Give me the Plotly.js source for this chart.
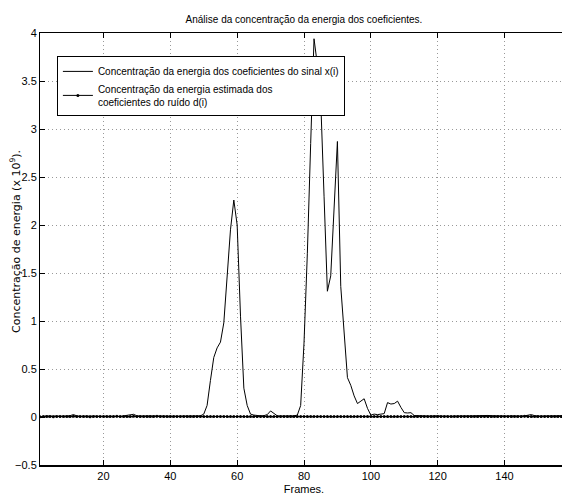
<!DOCTYPE html>
<html>
<head>
<meta charset="utf-8">
<script src="https://cdn.plot.ly/plotly-3.0.1.min.js"></script>
<style>
html,body{margin:0;padding:0;overflow:hidden;background:#fff;width:562px;height:499px;}
#chart{width:572px;height:499px;}
</style>
</head>
<body>
<div id="chart"></div>
<script>
// Frames 1..159
const signalX = [
0.000,0.010,0.012,0.010,0.008,0.012,0.010,0.009,0.011,0.014,
0.025,0.012,0.008,0.010,0.009,0.011,0.010,0.008,0.009,0.007,
0.009,0.012,0.010,0.008,0.006,0.010,0.014,0.018,0.028,0.012,
0.008,0.010,0.012,0.011,0.013,0.015,0.012,0.010,0.014,0.012,
0.010,0.009,0.008,0.010,0.009,0.011,0.008,0.010,0.012,0.030,
0.120,0.380,0.620,0.720,0.780,0.980,1.450,1.950,2.260,2.000,
1.050,0.300,0.120,0.030,0.020,0.015,0.012,0.014,0.025,0.063,
0.035,0.012,0.010,0.009,0.011,0.010,0.012,0.020,0.120,0.770,
1.700,2.850,3.940,3.670,3.300,2.300,1.310,1.470,2.200,2.870,
1.360,0.910,0.410,0.330,0.220,0.140,0.170,0.190,0.090,0.020,
0.030,0.025,0.030,0.035,0.150,0.135,0.140,0.165,0.100,0.045,
0.042,0.045,0.015,0.015,0.018,0.012,0.010,0.012,0.011,0.013,
0.010,0.008,0.006,0.008,0.010,0.009,0.011,0.012,0.010,0.012,
0.013,0.015,0.016,0.018,0.016,0.014,0.012,0.010,0.012,0.008,
0.010,0.012,0.010,0.008,0.010,0.012,0.015,0.025,0.014,0.010,
0.009,0.011,0.012,0.010,0.013,0.012,0.014,0.016,0.015
];
const noiseD = [
0.002,0.004,0.006,0.005,0.003,0.006,0.005,0.004,0.006,0.005,
0.007,0.005,0.004,0.006,0.005,0.003,0.005,0.006,0.004,0.005,
0.006,0.004,0.005,0.007,0.004,0.005,0.006,0.005,0.008,0.005,
0.004,0.006,0.005,0.004,0.006,0.007,0.005,0.004,0.006,0.005,
0.004,0.005,0.006,0.004,0.005,0.006,0.004,0.005,0.006,0.005,
0.004,0.006,0.005,0.004,0.005,0.006,0.005,0.004,0.006,0.005,
0.004,0.005,0.006,0.005,0.004,0.006,0.005,0.004,0.005,0.006,
0.005,0.004,0.006,0.005,0.004,0.005,0.006,0.004,0.005,0.006,
0.005,0.004,0.006,0.005,0.004,0.005,0.006,0.005,0.004,0.006,
0.005,0.004,0.005,0.006,0.004,0.005,0.006,0.005,0.004,0.006,
0.005,0.004,0.006,0.005,0.004,0.005,0.006,0.005,0.004,0.006,
0.005,0.004,0.005,0.006,0.005,0.004,0.006,0.005,0.004,0.005,
0.006,0.005,0.004,0.006,0.005,0.004,0.005,0.006,0.005,0.004,
0.006,0.005,0.004,0.005,0.006,0.005,0.004,0.006,0.005,0.004,
0.005,0.006,0.005,0.004,0.006,0.007,0.005,0.006,0.005,0.004,
0.006,0.005,0.004,0.005,0.006,0.005,0.004,0.006,0.005
];
const frames = signalX.map((_, i) => i + 1);
const xTicks = [20, 40, 60, 80, 100, 120, 140];
const yTicks = [-0.5, 0, 0.5, 1, 1.5, 2, 2.5, 3, 3.5, 4];
const yTickText = ['\u22120.5', '0', '0.5', '1', '1.5', '2', '2.5', '3', '3.5', '4'];
const legendNames = [
  'Concentração da energia dos coeficientes do sinal x(i)',
  'Concentração da energia estimada dos<br>coeficientes do ruído d(i)'
];
const yTitle = 'Concentração de energia (x 10<sup>9</sup>).';

const sans = '"Liberation Sans", Arial, sans-serif';

const traces = [
  {x: frames, y: signalX, type: 'scatter', mode: 'lines', name: legendNames[0],
   line: {color: '#000', width: 1}},
  {x: frames, y: noiseD, type: 'scatter', mode: 'lines+markers', name: legendNames[1],
   line: {color: '#000', width: 1}, marker: {color: '#000', size: 3}}
];

const layout = {
  width: 572, height: 499,
  margin: {l: 40, r: 4, t: 33, b: 34},
  paper_bgcolor: '#fff', plot_bgcolor: '#fff',
  font: {family: sans, size: 11, color: '#000'},
  title: {text: 'Análise da concentração da energia dos coeficientes.',
          font: {family: sans, size: 10, color: '#000'},
          xref: 'container', x: 304/572, xanchor: 'center',
          yref: 'container', y: 1 - 19/499, yanchor: 'middle'},
  showlegend: true,
  legend: {x: 0.032, y: 0.947, xanchor: 'left', yanchor: 'top',
           bordercolor: '#000', borderwidth: 1, bgcolor: '#fff',
           font: {family: sans, size: 10, color: '#000'},
           itemwidth: 30, tracegroupgap: 0},
  xaxis: {range: [1, 159], tickvals: xTicks, ticktext: xTicks.map(String),
          ticks: 'inside', ticklen: 5, tickcolor: '#000',
          showline: true, linecolor: '#000', linewidth: 1.5, mirror: 'ticks',
          showgrid: true, gridcolor: '#999', griddash: '1px,3px', gridwidth: 1,
          zeroline: false, tickfont: {family: sans, size: 11},
          title: {text: 'Frames.', font: {family: sans, size: 11}, standoff: 4}},
  yaxis: {range: [-0.5, 4], tickvals: yTicks, ticktext: yTickText,
          ticks: 'inside', ticklen: 5, tickcolor: '#000',
          showline: true, linecolor: '#000', linewidth: 1, mirror: 'ticks',
          showgrid: true, gridcolor: '#999', griddash: '1px,3px', gridwidth: 1,
          zeroline: false, tickfont: {family: sans, size: 11}},
  annotations: [{text: yTitle, textangle: -90, showarrow: false,
                 xref: 'paper', yref: 'paper', x: (15 - 40) / 528, y: (465 - 242) / 432,
                 xanchor: 'center', yanchor: 'middle',
                 font: {family: '"DejaVu Sans", sans-serif', size: 11, color: '#000'}}]
};

Plotly.newPlot('chart', traces, layout, {staticPlot: true, displayModeBar: false});
</script>
</body>
</html>
